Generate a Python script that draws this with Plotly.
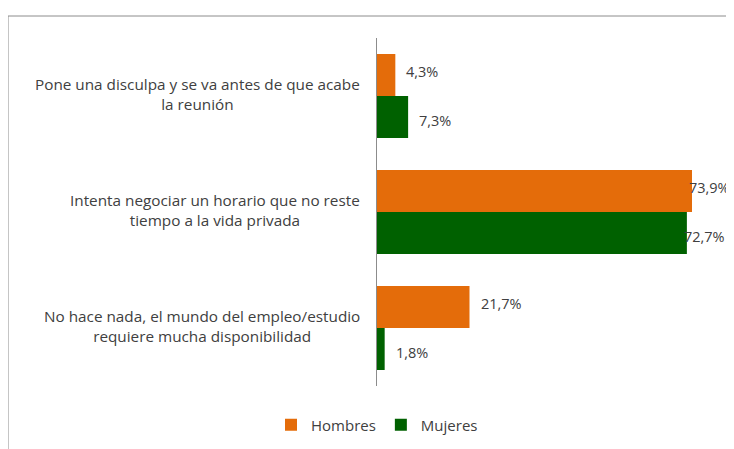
import plotly.graph_objects as go

categories = [
    "Pone una disculpa y se va antes de que acabe<br>la reunión",
    "Intenta negociar un horario que no reste<br>tiempo a la vida privada",
    "No hace nada, el mundo del empleo/estudio<br>requiere mucha disponibilidad",
]
hombres = [4.3, 73.9, 21.7]
mujeres = [7.3, 72.7, 1.8]
series_names = ["Hombres", "Mujeres"]
colors = ["#E46C0A", "#006100"]

# page body has an 8px margin: draw in a 726x441 figure, offset by 8px
OFF = 8
W, H = 734 - OFF, 449 - OFF
FONT = "Open Sans"
TXT = "#404040"


def px(x):
    return (x - OFF) / W


def py(y):
    return 1 - (y - OFF) / H


fig = go.Figure()
for name, vals, col in zip(series_names, [hombres, mujeres], colors):
    fig.add_trace(go.Bar(
        y=categories, x=vals, name=name, orientation="h",
        marker=dict(color=col, line=dict(width=0)),
        hoverinfo="skip",
    ))

annotations = []
for c in categories:
    annotations.append(dict(
        x=px(362), xref="paper", y=c, yref="y", text=c, showarrow=False,
        xanchor="right", yanchor="middle", align="center", yshift=2,
        font=dict(family=FONT, size=15.3, color=TXT),
    ))
for i, vals in enumerate([hombres, mujeres]):
    off = -0.21 if i == 0 else 0.21
    for j, v in enumerate(vals):
        annotations.append(dict(
            x=v, xref="x", y=j + off, yref="y",
            text=f"{v:.1f}%".replace(".", ","), showarrow=False,
            xanchor="left", yanchor="middle",
            xshift=-5 if v > 60 else 9,
            font=dict(family=FONT, size=14.5, color=TXT),
        ))

fig.update_layout(
    width=W, height=H,
    margin=dict(l=0, r=0, t=0, b=0),
    paper_bgcolor="white", plot_bgcolor="white",
    barmode="group", bargap=0.276, bargroupgap=0,
    xaxis=dict(domain=[px(377), px(718)], range=[0, 80], visible=False,
               fixedrange=True),
    yaxis=dict(domain=[py(386), py(38)], autorange="reversed",
               showticklabels=False, showgrid=False, zeroline=False,
               showline=True, linecolor="#8c8c8c", linewidth=1, ticks=""),
    showlegend=True,
    legend=dict(orientation="h", x=px(377), xanchor="center",
                y=py(425), yanchor="middle",
                font=dict(family=FONT, size=15, color=TXT),
                itemwidth=30, traceorder="normal"),
    annotations=annotations,
    shapes=[
        dict(type="line", xref="paper", yref="paper",
             x0=px(8), x1=1.0, y0=py(16), y1=py(16),
             line=dict(color="#8c8c8c", width=1)),
        dict(type="line", xref="paper", yref="paper",
             x0=px(8), x1=px(8), y0=0, y1=py(16),
             line=dict(color="#8c8c8c", width=1)),
    ],
)

fig.write_html("out.html")
